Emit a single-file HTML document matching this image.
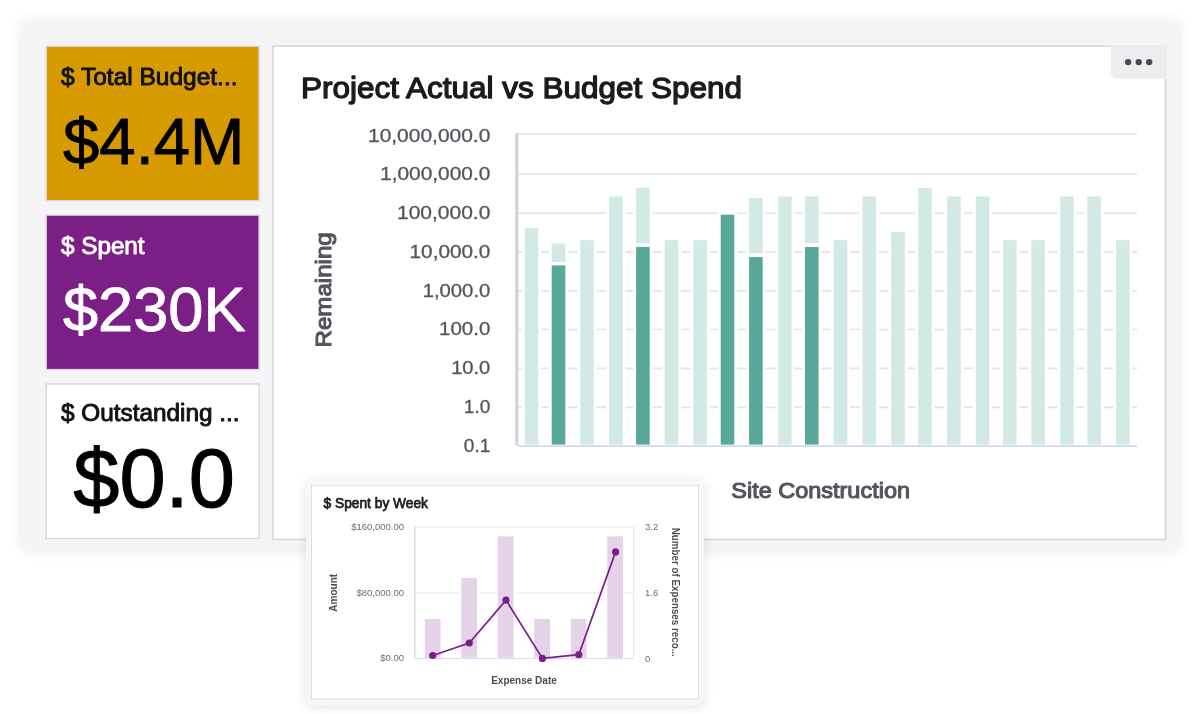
<!DOCTYPE html>
<html lang="en"><head><meta charset="utf-8"><title>Project Actual vs Budget Spend</title>
<style>
html,body{margin:0;padding:0;background:#fff;}
body{width:1200px;height:714px;position:relative;overflow:hidden;font-family:"Liberation Sans", sans-serif;}
.abs{position:absolute;box-sizing:border-box;}
#wrap{left:22px;top:21.3px;width:1156.8px;height:527.5px;background:#f5f5f7;border-radius:7px;box-shadow:0 1px 14px rgba(40,40,60,0.11);}
#card{left:306px;top:479px;width:398px;height:226px;background:#f7f7f9;border-radius:8px;box-shadow:0 2px 11px rgba(40,40,60,0.13);}
svg{position:absolute;left:0;top:0;font-family:"Liberation Sans", sans-serif;}
</style></head><body>
<div id="wrap" class="abs"></div>
<svg width="1200" height="714" viewBox="0 0 1200 714">
<rect x="46.15" y="46.15" width="213.00" height="154.60" fill="#d79a00" stroke="#dedbe0" stroke-width="1.5"/>
<rect x="46.15" y="215.05" width="213.00" height="154.60" fill="#7b1f87" stroke="#dedbe0" stroke-width="1.5"/>
<rect x="46.15" y="384.05" width="213.00" height="154.50" fill="#ffffff" stroke="#d9d9dd" stroke-width="1.5"/>
<rect x="272.90" y="46.20" width="892.70" height="493.30" fill="#ffffff" stroke="#d8d8db" stroke-width="1.6"/>
<path d="M1110.8 45.2 H1167 V78.8 H1117.3 a6.5 6.5 0 0 1 -6.5 -6.5 Z" fill="#ededef"/>
<line x1="517.0" y1="134.0" x2="1137.0" y2="134.0" stroke="#e3e3e6" stroke-width="1.6"/>
<line x1="517.0" y1="174.2" x2="1137.0" y2="174.2" stroke="#e3e3e6" stroke-width="1.6"/>
<line x1="517.0" y1="213.3" x2="1137.0" y2="213.3" stroke="#e3e3e6" stroke-width="1.6"/>
<line x1="517.0" y1="251.9" x2="1137.0" y2="251.9" stroke="#e3e3e6" stroke-width="1.6"/>
<line x1="517.0" y1="290.9" x2="1137.0" y2="290.9" stroke="#e3e3e6" stroke-width="1.6"/>
<line x1="517.0" y1="329.5" x2="1137.0" y2="329.5" stroke="#e3e3e6" stroke-width="1.6"/>
<line x1="517.0" y1="368.4" x2="1137.0" y2="368.4" stroke="#e3e3e6" stroke-width="1.6"/>
<line x1="517.0" y1="407.4" x2="1137.0" y2="407.4" stroke="#e3e3e6" stroke-width="1.6"/>
<rect x="522.0" y="225.4" width="19.2" height="222.0" fill="#fff"/>
<rect x="548.9" y="240.7" width="19.2" height="24.1" fill="#fff"/>
<rect x="548.9" y="262.6" width="19.2" height="184.8" fill="#fff"/>
<rect x="577.5" y="237.4" width="19.2" height="210.0" fill="#fff"/>
<rect x="606.2" y="193.6" width="19.2" height="253.8" fill="#fff"/>
<rect x="633.3" y="184.8" width="19.2" height="61.5" fill="#fff"/>
<rect x="633.3" y="244.1" width="19.2" height="203.3" fill="#fff"/>
<rect x="661.9" y="237.4" width="19.2" height="210.0" fill="#fff"/>
<rect x="690.5" y="237.4" width="19.2" height="210.0" fill="#fff"/>
<rect x="717.9" y="211.9" width="19.2" height="235.5" fill="#fff"/>
<rect x="746.3" y="195.2" width="19.2" height="61.0" fill="#fff"/>
<rect x="746.3" y="254.3" width="19.2" height="193.1" fill="#fff"/>
<rect x="775.3" y="193.7" width="19.2" height="253.7" fill="#fff"/>
<rect x="802.2" y="193.7" width="19.2" height="52.4" fill="#fff"/>
<rect x="802.2" y="244.2" width="19.2" height="203.2" fill="#fff"/>
<rect x="830.9" y="237.4" width="19.2" height="210.0" fill="#fff"/>
<rect x="859.7" y="193.7" width="19.2" height="253.7" fill="#fff"/>
<rect x="888.4" y="229.2" width="19.2" height="218.2" fill="#fff"/>
<rect x="915.3" y="185.2" width="19.2" height="262.2" fill="#fff"/>
<rect x="944.3" y="193.7" width="19.2" height="253.7" fill="#fff"/>
<rect x="973.0" y="193.7" width="19.2" height="253.7" fill="#fff"/>
<rect x="1000.1" y="237.4" width="19.2" height="210.0" fill="#fff"/>
<rect x="1028.5" y="237.4" width="19.2" height="210.0" fill="#fff"/>
<rect x="1057.5" y="193.7" width="19.2" height="253.7" fill="#fff"/>
<rect x="1084.5" y="193.7" width="19.2" height="253.7" fill="#fff"/>
<rect x="1113.2" y="237.4" width="19.2" height="210.0" fill="#fff"/>
<rect x="524.8" y="228.2" width="13.6" height="216.4" fill="#d3e9e5"/>
<rect x="551.7" y="243.5" width="13.6" height="18.5" fill="#d3e9e5"/>
<rect x="551.7" y="265.4" width="13.6" height="179.2" fill="#58a899"/>
<rect x="580.3" y="240.2" width="13.6" height="204.4" fill="#d3e9e5"/>
<rect x="609.0" y="196.4" width="13.6" height="248.2" fill="#d3e9e5"/>
<rect x="636.1" y="187.6" width="13.6" height="55.9" fill="#d3e9e5"/>
<rect x="636.1" y="246.9" width="13.6" height="197.7" fill="#58a899"/>
<rect x="664.7" y="240.2" width="13.6" height="204.4" fill="#d3e9e5"/>
<rect x="693.3" y="240.2" width="13.6" height="204.4" fill="#d3e9e5"/>
<rect x="720.7" y="214.7" width="13.6" height="229.9" fill="#58a899"/>
<rect x="749.1" y="198.0" width="13.6" height="55.4" fill="#d3e9e5"/>
<rect x="749.1" y="257.1" width="13.6" height="187.5" fill="#58a899"/>
<rect x="778.1" y="196.5" width="13.6" height="248.1" fill="#d3e9e5"/>
<rect x="805.0" y="196.5" width="13.6" height="46.8" fill="#d3e9e5"/>
<rect x="805.0" y="247.0" width="13.6" height="197.6" fill="#58a899"/>
<rect x="833.7" y="240.2" width="13.6" height="204.4" fill="#d3e9e5"/>
<rect x="862.5" y="196.5" width="13.6" height="248.1" fill="#d3e9e5"/>
<rect x="891.2" y="232.0" width="13.6" height="212.6" fill="#d3e9e5"/>
<rect x="918.1" y="188.0" width="13.6" height="256.6" fill="#d3e9e5"/>
<rect x="947.1" y="196.5" width="13.6" height="248.1" fill="#d3e9e5"/>
<rect x="975.8" y="196.5" width="13.6" height="248.1" fill="#d3e9e5"/>
<rect x="1002.9" y="240.2" width="13.6" height="204.4" fill="#d3e9e5"/>
<rect x="1031.3" y="240.2" width="13.6" height="204.4" fill="#d3e9e5"/>
<rect x="1060.3" y="196.5" width="13.6" height="248.1" fill="#d3e9e5"/>
<rect x="1087.3" y="196.5" width="13.6" height="248.1" fill="#d3e9e5"/>
<rect x="1116.0" y="240.2" width="13.6" height="204.4" fill="#d3e9e5"/>
<line x1="516.8" y1="133.2" x2="516.8" y2="445.3" stroke="#d2d2d6" stroke-width="3.2"/>
<line x1="517.4" y1="446.1" x2="1137.0" y2="446.1" stroke="#d3d9ee" stroke-width="1.6"/>
<text x="368.0" y="141.6" font-size="19" fill="#55535c" stroke="#55535c" stroke-width="0.3" stroke-linejoin="round" textLength="122.3" lengthAdjust="spacingAndGlyphs">10,000,000.0</text>
<text x="380.1" y="180.35" font-size="19" fill="#55535c" stroke="#55535c" stroke-width="0.3" stroke-linejoin="round" textLength="110.2" lengthAdjust="spacingAndGlyphs">1,000,000.0</text>
<text x="397.0" y="219.1" font-size="19" fill="#55535c" stroke="#55535c" stroke-width="0.3" stroke-linejoin="round" textLength="93.3" lengthAdjust="spacingAndGlyphs">100,000.0</text>
<text x="409.6" y="257.85" font-size="19" fill="#55535c" stroke="#55535c" stroke-width="0.3" stroke-linejoin="round" textLength="80.7" lengthAdjust="spacingAndGlyphs">10,000.0</text>
<text x="422.7" y="296.6" font-size="19" fill="#55535c" stroke="#55535c" stroke-width="0.3" stroke-linejoin="round" textLength="67.6" lengthAdjust="spacingAndGlyphs">1,000.0</text>
<text x="439.1" y="335.35" font-size="19" fill="#55535c" stroke="#55535c" stroke-width="0.3" stroke-linejoin="round" textLength="51.2" lengthAdjust="spacingAndGlyphs">100.0</text>
<text x="451.2" y="374.1" font-size="19" fill="#55535c" stroke="#55535c" stroke-width="0.3" stroke-linejoin="round" textLength="39.1" lengthAdjust="spacingAndGlyphs">10.0</text>
<text x="463.8" y="412.85" font-size="19" fill="#55535c" stroke="#55535c" stroke-width="0.3" stroke-linejoin="round" textLength="26.5" lengthAdjust="spacingAndGlyphs">1.0</text>
<text x="463.8" y="451.6" font-size="19" fill="#55535c" stroke="#55535c" stroke-width="0.3" stroke-linejoin="round" textLength="26.5" lengthAdjust="spacingAndGlyphs">0.1</text>
<text x="301" y="97.7" font-size="29.5" fill="#1b1a1f" stroke="#1b1a1f" stroke-width="1.3" stroke-linejoin="round" textLength="441" lengthAdjust="spacingAndGlyphs">Project Actual vs Budget Spend</text>
<text transform="translate(330.6,289.9) rotate(-90)" font-size="22.5" fill="#55535c" stroke="#55535c" stroke-width="1.1" stroke-linejoin="round" text-anchor="middle" textLength="115.3" lengthAdjust="spacingAndGlyphs">Remaining</text>
<text x="731.3" y="498" font-size="22.5" fill="#55535c" stroke="#55535c" stroke-width="1.1" stroke-linejoin="round" textLength="178.7" lengthAdjust="spacingAndGlyphs">Site Construction</text>
<circle cx="1128.1" cy="62.1" r="3.2" fill="#4b4953"/>
<circle cx="1138.7" cy="62.1" r="3.2" fill="#4b4953"/>
<circle cx="1149.2" cy="62.1" r="3.2" fill="#4b4953"/>
<text x="61" y="84.8" font-size="23" fill="#111" stroke="#111" stroke-width="0.9" stroke-linejoin="round" textLength="176.5" lengthAdjust="spacingAndGlyphs">$ Total Budget...</text>
<text x="63" y="163.8" font-size="65" fill="#000" stroke="#000" stroke-width="0.9" stroke-linejoin="round" textLength="181.5" lengthAdjust="spacingAndGlyphs">$4.4M</text>
<text x="61" y="253.8" font-size="23" fill="#fff" stroke="#fff" stroke-width="0.9" stroke-linejoin="round" textLength="83.6" lengthAdjust="spacingAndGlyphs">$ Spent</text>
<text x="63" y="331.2" font-size="63.5" fill="#fff" stroke="#fff" stroke-width="0.9" stroke-linejoin="round" textLength="182.5" lengthAdjust="spacingAndGlyphs">$230K</text>
<text x="61" y="421.4" font-size="23" fill="#111" stroke="#111" stroke-width="0.9" stroke-linejoin="round" textLength="178.5" lengthAdjust="spacingAndGlyphs">$ Outstanding ...</text>
<text x="73.3" y="506.7" font-size="82.5" fill="#000" stroke="#000" stroke-width="1.1" stroke-linejoin="round" textLength="161.5" lengthAdjust="spacingAndGlyphs">$0.0</text>
</svg>
<div id="card" class="abs"></div>
<svg width="1200" height="714" viewBox="0 0 1200 714">
<rect x="311.50" y="485.70" width="387.00" height="213.20" fill="#ffffff" stroke="#dedee2" stroke-width="1.0"/>
<line x1="414.8" y1="527.2" x2="633.7" y2="527.2" stroke="#ececef" stroke-width="1"/>
<line x1="633.7" y1="527.2" x2="633.7" y2="658.6" stroke="#e6e6ea" stroke-width="1"/>
<line x1="414.8" y1="526.7" x2="414.8" y2="658.6" stroke="#dcdce0" stroke-width="1.5"/>
<line x1="414.8" y1="592.9" x2="633.7" y2="592.9" stroke="#e9e9ec" stroke-width="1"/>
<rect x="422.8" y="616.9" width="19.8" height="40.7" fill="#fff"/>
<rect x="459.3" y="576.1" width="19.8" height="81.5" fill="#fff"/>
<rect x="495.8" y="534.3" width="19.8" height="123.3" fill="#fff"/>
<rect x="532.2" y="616.9" width="19.8" height="40.7" fill="#fff"/>
<rect x="568.7" y="616.9" width="19.8" height="40.7" fill="#fff"/>
<rect x="605.2" y="534.3" width="19.8" height="123.3" fill="#fff"/>
<rect x="424.8" y="618.9" width="15.8" height="38.9" fill="#e6d3ea"/>
<rect x="461.3" y="578.1" width="15.8" height="79.7" fill="#e6d3ea"/>
<rect x="497.8" y="536.3" width="15.8" height="121.5" fill="#e6d3ea"/>
<rect x="534.2" y="618.9" width="15.8" height="38.9" fill="#e6d3ea"/>
<rect x="570.7" y="618.9" width="15.8" height="38.9" fill="#e6d3ea"/>
<rect x="607.2" y="536.3" width="15.8" height="121.5" fill="#e6d3ea"/>
<line x1="414.8" y1="658.6" x2="633.7" y2="658.6" stroke="#d5daec" stroke-width="1"/>
<polyline fill="none" stroke="#7a1f8a" stroke-width="1.7" points="432.7,655.5 469.3,643.0 506.0,600.1 542.4,658.4 578.8,654.7 615.6,551.9"/>
<circle cx="432.7" cy="655.5" r="3.6" fill="#7a1f8a"/>
<circle cx="469.3" cy="643.0" r="3.6" fill="#7a1f8a"/>
<circle cx="506.0" cy="600.1" r="3.6" fill="#7a1f8a"/>
<circle cx="542.4" cy="658.4" r="3.6" fill="#7a1f8a"/>
<circle cx="578.8" cy="654.7" r="3.6" fill="#7a1f8a"/>
<circle cx="615.6" cy="551.9" r="3.6" fill="#7a1f8a"/>
<text x="404" y="530.0" text-anchor="end" font-size="9.5" fill="#6d6c75">$160,000.00</text>
<text x="404" y="596.3" text-anchor="end" font-size="9.5" fill="#6d6c75">$80,000.00</text>
<text x="404" y="661.2" text-anchor="end" font-size="9.5" fill="#6d6c75">$0.00</text>
<text x="645" y="529.6" font-size="9.5" fill="#6d6c75">3.2</text>
<text x="645" y="595.9" font-size="9.5" fill="#6d6c75">1.6</text>
<text x="645" y="661.6" font-size="9.5" fill="#6d6c75">0</text>
<text x="323.5" y="508.3" font-size="15.2" fill="#1b1a1f" stroke="#1b1a1f" stroke-width="0.75" stroke-linejoin="round" textLength="104.5" lengthAdjust="spacingAndGlyphs">$ Spent by Week</text>
<text transform="translate(336.5,592.8) rotate(-90)" text-anchor="middle" font-size="10" font-weight="700" fill="#4c4b53">Amount</text>
<text transform="translate(672.3,592.3) rotate(90)" text-anchor="middle" font-size="10" font-weight="700" fill="#4c4b53" textLength="129" lengthAdjust="spacingAndGlyphs">Number of Expenses reco...</text>
<text x="524" y="684" text-anchor="middle" font-size="10" font-weight="700" fill="#4c4b53">Expense Date</text>
</svg>
</body></html>
